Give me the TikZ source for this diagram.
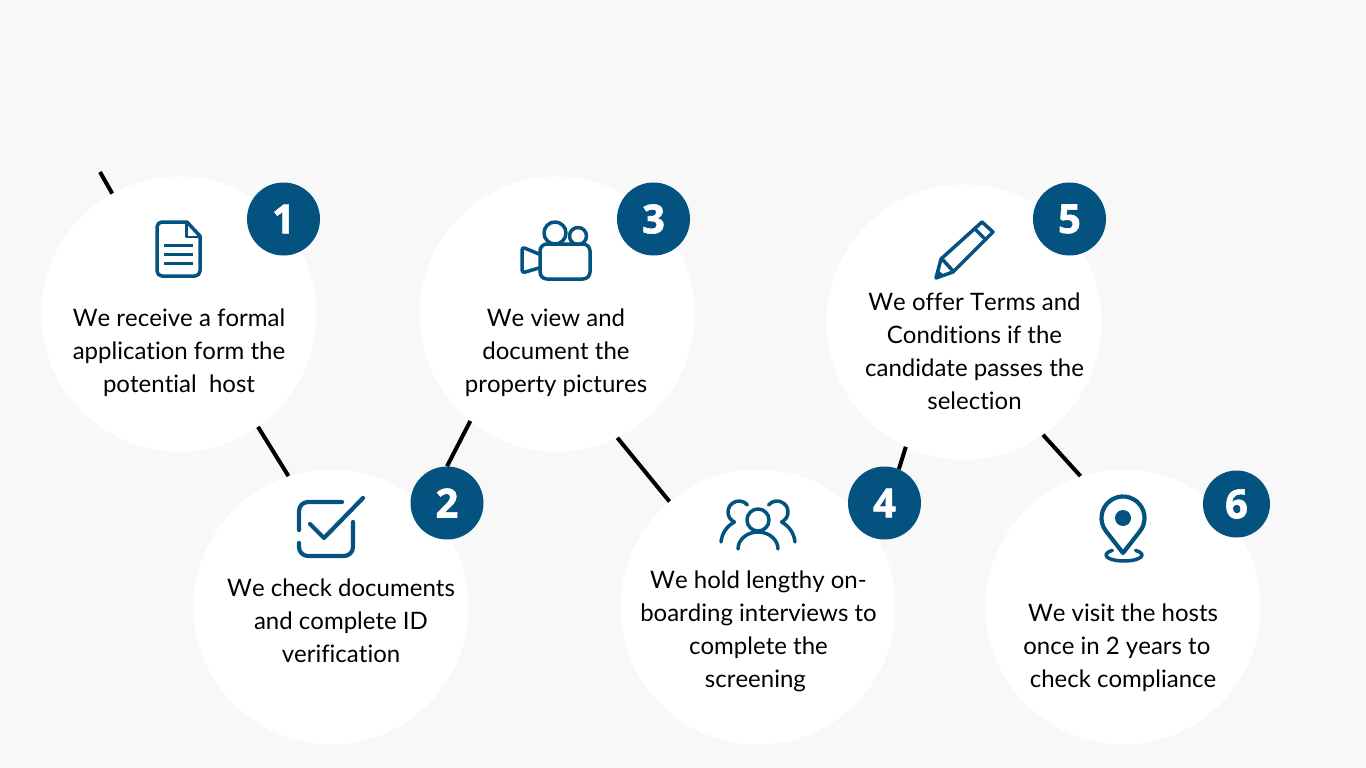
\documentclass[tikz,border=0pt]{standalone}
\usepackage{fontspec}
\setmainfont[RawFeature={-liga;-kern}]{Lato}
\newfontfamily\numfont[BoldFeatures={FakeBold=1.5}]{Open Sans}
\definecolor{pagebg}{HTML}{F8F8F8}
\definecolor{brand}{HTML}{03527F}
\tikzset{
  disc/.style={circle,fill=white,minimum size=275pt,inner sep=0pt},
  badge/.style={circle,fill=brand,text=white,minimum size=73pt,inner sep=0pt,font=\numfont\bfseries\fontsize{40}{40}\selectfont},
  caption/.style={align=center,inner sep=0pt,text=black,font=\fontsize{24}{33}\selectfont},
  link/.style={black,line width=4pt},
  icon/.style={brand,line width=3.5pt,line cap=round,line join=round},
  iconthick/.style={icon,line width=4.2pt},
}
\begin{document}
\begin{tikzpicture}[x=1pt,y=-1pt]
\useasboundingbox (0,0) rectangle (1366,768);
\fill[pagebg] (0,0) rectangle (1366,768);
% discs
\node[disc] (c1) at (179,314) {};
\node[disc] (c2) at (331,607) {};
\node[disc] (c3) at (557,314) {};
\node[disc] (c4) at (758,607) {};
\node[disc] (c5) at (964,322) {};
\node[disc] (c6) at (1123,607) {};
% badges
\node[badge] (b1) at (283.5,219) {1};
\node[badge] (b2) at (447,503) {2};
\node[badge] (b3) at (653.5,219) {3};
\node[badge] (b4) at (884.5,503) {4};
\node[badge] (b5) at (1069.5,219) {5};
\node[badge,minimum size=67pt] (b6) at (1236.5,504) {6};
% connectors
\coordinate (start) at (100,172);
\draw[link] (start) -- (c1.119.5);
\draw[link] (c1.-55.8) -- (c2.108);
\draw[link] (b2.90) -- (c3.231.2);
\draw[link] (c3.-64.5) -- (c4.130);
\draw[link] (b4.67.4) -- (c5.245.5);
\draw[link] (c5.-55.5) -- (c6.108);
% captions
\node[caption] (t1) at (179,353) {We receive a formal\\application form the\\potential\ \ host};
\node[caption] (t2) at (341,621) {We check documents\\and complete ID\\verification};
\node[caption] (t3) at (556,353) {We view and\\document the\\property pictures};
\node[caption] (t4) at (758.5,631.5) {We hold lengthy on-\\boarding interviews to\\complete the\\screening\mbox{\ }};
\node[caption] (t5) at (974.5,351.5) {We offer Terms and\\Conditions if the\\candidate passes the\\selection};
\node[caption] (t6) at (1123,648) {We visit the hosts\\once in 2 years to\mbox{\ \ }\\check compliance};
% document icon
\draw[icon,rounded corners=5pt] (187,222) -- (157,222) -- (157,276) -- (200,276) -- (200,236);
\draw[icon] (200,236) -- (187,222);
\draw[icon,line width=2.4pt] (186.5,223) -- (186.5,237) -- (199,237);
\foreach \yy in {245.5,254.5,263.5}{\draw[brand,line width=3.5pt] (164,\yy) -- (193,\yy);}
% check icon
\draw[iconthick,rounded corners=9pt] (342,502) -- (299,502) -- (299,530);
\draw[iconthick,rounded corners=9pt] (299,543) -- (299,556) -- (353,556) -- (353,522);
\draw[iconthick] (310,524) -- (324,538) -- (363,498);
% camera icon
\draw[icon,rounded corners=7pt] (540,244) rectangle (590,279);
\draw[icon] (555,233) circle[radius=11];
\draw[icon] (578,236) circle[radius=8.5];
\draw[icon,rounded corners=3pt] (539,254) -- (522,247) -- (522,273) -- (539,268);
% people icon
\draw[icon] (758,520) circle[radius=11];
\draw[icon] (738,549) arc[start angle=180,end angle=360,x radius=20,y radius=17];
\draw[icon] (739,512) ++(320:11) arc[start angle=320,end angle=115,radius=11];
\draw[icon] (721,542) .. controls (722,533) and (727,526) .. (734.5,522);
\draw[icon] (777,512) ++(220:11) arc[start angle=220,end angle=425,radius=11];
\draw[icon] (795,542) .. controls (794,533) and (789,526) .. (781.5,522);
% pencil icon
\draw[icon] (936,278) -- (941,259) -- (982,222) -- (993,232) -- (953,272) -- cycle;
\draw[icon] (975,229) -- (986,240);
\draw[icon] (943,260) -- (953,271);
\fill[brand] (936,278) -- (938,270) -- (944,275) -- cycle;
% pin icon
\draw[iconthick] (1123,553) -- ([shift={(1123,518)}]142:21.5) arc[start angle=142,end angle=398,radius=21.5] -- cycle;
\fill[brand] (1123,518) circle[radius=8];
\draw[icon] (1124,555) ++(230:18 and 6) arc[start angle=230,end angle=-50,x radius=18,y radius=6];
\end{tikzpicture}
\end{document}
